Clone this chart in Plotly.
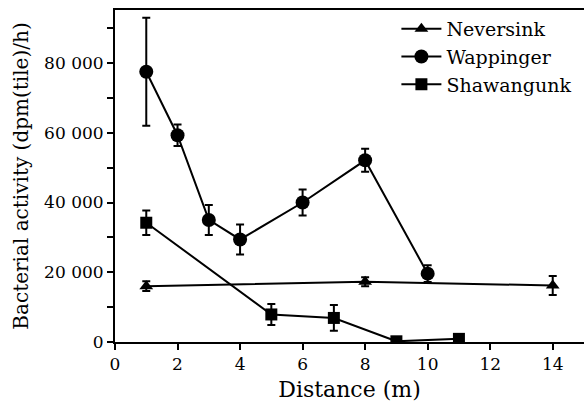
import plotly.graph_objects as go

# Data
nev_x = [1, 8, 14]
nev_y = [16000, 17300, 16200]
nev_err = [1400, 1300, 2700]

wap_x = [1, 2, 3, 4, 6, 8, 10]
wap_y = [77500, 59300, 35000, 29400, 40000, 52100, 19600]
wap_err = [15500, 3100, 4300, 4300, 3700, 3300, 2400]

sha_x = [1, 5, 7, 9, 11]
sha_y = [34200, 7900, 6900, 200, 900]
sha_err = [3500, 3000, 3700, 300, 800]

y_tickvals = [0, 20000, 40000, 60000, 80000]
y_ticktext = ["0", "20 000", "40 000", "60 000", "80 000"]
x_tickvals = [0, 2, 4, 6, 8, 10, 12, 14]

FONT = "DejaVu Serif, serif"

def series(x, y, err, name, symbol, size):
    return go.Scatter(
        x=x, y=y, name=name, mode="lines+markers",
        line=dict(color="black", width=2),
        marker=dict(symbol=symbol, size=size, color="black"),
        error_y=dict(type="data", array=err, visible=True,
                     color="black", thickness=2, width=4),
    )

fig = go.Figure()
fig.add_trace(series(nev_x, nev_y, nev_err, "Neversink", "triangle-up", 12))
fig.add_trace(series(wap_x, wap_y, wap_err, "Wappinger", "circle", 14))
fig.add_trace(series(sha_x, sha_y, sha_err, "Shawangunk", "square", 12))

fig.update_layout(
    width=584, height=408,
    margin=dict(l=115, r=0, t=10, b=66),
    paper_bgcolor="white", plot_bgcolor="white",
    font=dict(family=FONT, size=17, color="black"),
    showlegend=True,
    legend=dict(x=0.6, y=1.0, xanchor="left", yanchor="top",
                font=dict(family=FONT, size=19),
                bgcolor="rgba(0,0,0,0)", tracegroupgap=0,
                itemwidth=40),
    xaxis=dict(
        range=[0, 15], tickvals=x_tickvals,
        showline=True, linecolor="black", linewidth=2, mirror=True,
        ticks="outside", ticklen=6, tickwidth=2, tickcolor="black",
        showgrid=False, zeroline=False,
        tickfont=dict(family=FONT, size=17),
        title=dict(text="Distance (m)", font=dict(family=FONT, size=22), standoff=8),
    ),
    yaxis=dict(
        range=[0, 95200], tickvals=y_tickvals, ticktext=y_ticktext,
        showline=True, linecolor="black", linewidth=2,
        ticks="outside", ticklen=6, tickwidth=2, tickcolor="black",
        minor=dict(dtick=10000, tick0=0, ticks="outside", ticklen=6,
                   tickwidth=2, tickcolor="black", showgrid=False),
        showgrid=False, zeroline=False,
        tickfont=dict(family=FONT, size=17),
        title=dict(text="Bacterial activity (dpm(tile)/h)",
                   font=dict(family=FONT, size=20), standoff=10),
    ),
)

fig.write_html("out.html")
